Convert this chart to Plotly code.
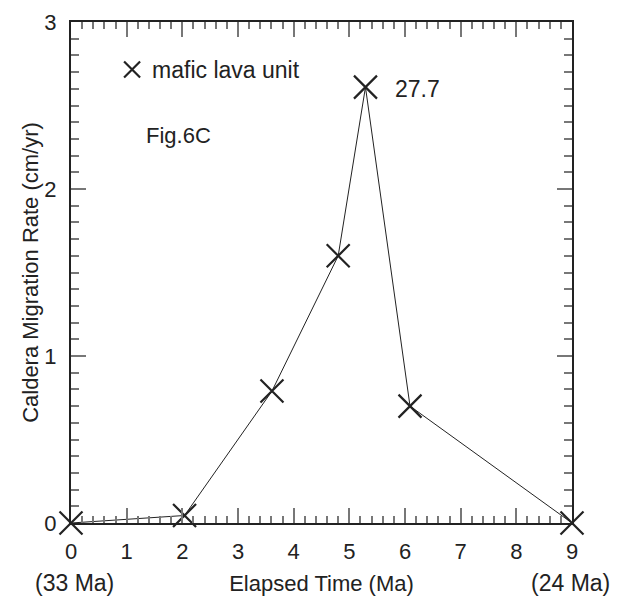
import plotly.graph_objects as go

elapsed_ma = [0.0, 2.04, 3.61, 4.80, 5.29, 6.09, 9.0]
rate_cm_yr = [0.0, 0.045, 0.79, 1.60, 2.61, 0.70, 0.0]
peak_label = "27.7"
series_name = "mafic lava unit"
fig_label = "Fig.6C"
x_ticks = [0, 1, 2, 3, 4, 5, 6, 7, 8, 9]
y_ticks = [0, 1, 2, 3]
start_label = "(33 Ma)"
end_label = "(24 Ma)"

FONT = "Arial, Liberation Sans, sans-serif"
INK = "#222"
fig = go.Figure()
fig.add_trace(go.Scatter(
    x=elapsed_ma, y=rate_cm_yr, mode="lines+markers",
    line=dict(color=INK, width=1),
    marker=dict(symbol="x-thin-open", size=23, line=dict(color=INK, width=2.2), color=INK),
    cliponaxis=False, showlegend=False,
))
fig.add_trace(go.Scatter(
    x=[None], y=[None], mode="markers", name=series_name,
    marker=dict(symbol="x-thin-open", size=23, line=dict(color=INK, width=2.2), color=INK),
    showlegend=True,
))

peak_i = rate_cm_yr.index(max(rate_cm_yr))
fig.add_annotation(x=elapsed_ma[peak_i], y=rate_cm_yr[peak_i], text=peak_label,
                   showarrow=False, xanchor="left", xshift=28, yshift=-2,
                   font=dict(size=23, color=INK, family=FONT))
fig.add_annotation(x=0.0, y=1.0, xref="paper", yref="paper", text=fig_label,
                   showarrow=False, xanchor="left", yanchor="middle",
                   xshift=73, yshift=-113, font=dict(size=22, color=INK, family=FONT))
fig.add_annotation(x=x_ticks[0], y=0, xref="x", yref="paper", text=start_label,
                   showarrow=False, yanchor="middle", xshift=3, yshift=-60,
                   font=dict(size=23, color=INK, family=FONT))
fig.add_annotation(x=x_ticks[-1], y=0, xref="x", yref="paper", text=end_label,
                   showarrow=False, yanchor="middle", xshift=-2, yshift=-60,
                   font=dict(size=23, color=INK, family=FONT))

axis_common = dict(
    showline=True, linecolor=INK, linewidth=2, mirror="allticks",
    ticks="inside", ticklen=15, tickwidth=1.5, tickcolor="#777",
    showgrid=False, zeroline=False, automargin=False,
    tickfont=dict(size=22, color=INK, family=FONT),
)
fig.update_xaxes(range=[0, 9], tickvals=x_ticks, ticklabelstandoff=8,
                 minor=dict(dtick=0.2, ticks="inside", ticklen=7, tickwidth=1.5, tickcolor="#777", showgrid=False),
                 title=dict(text="Elapsed Time (Ma)", standoff=12, font=dict(size=22, color=INK, family=FONT)),
                 **axis_common)
fig.update_yaxes(range=[0, 3], tickvals=y_ticks, ticklabelstandoff=8,
                 minor=dict(dtick=0.1, ticks="inside", ticklen=8, tickwidth=1.5, tickcolor="#777", showgrid=False),
                 title=dict(text="Caldera Migration Rate (cm/yr)", standoff=0, font=dict(size=22, color=INK, family=FONT)),
                 **axis_common)
fig.update_layout(
    width=620, height=604,
    margin=dict(l=71, r=48, t=22, b=81),
    paper_bgcolor="white", plot_bgcolor="white",
    legend=dict(x=0.082, y=0.948, xanchor="left", yanchor="top", xref="paper", yref="paper",
                bgcolor="rgba(0,0,0,0)", font=dict(size=23, color=INK, family=FONT),
                itemsizing="trace"),
    font=dict(family=FONT),
)
fig.write_html("out.html", config={"displayModeBar": False},
               post_script="document.body.style.margin='0';")
